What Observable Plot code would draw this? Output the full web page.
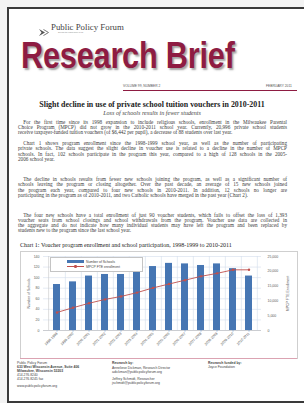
<!DOCTYPE html>
<html><head><meta charset="utf-8">
<script src="https://cdn.jsdelivr.net/npm/d3@7"></script>
<script src="https://cdn.jsdelivr.net/npm/@observablehq/plot@0.6"></script>
<style>
html,body{margin:0;padding:0;background:#f3f3f3;width:304px;height:403px;overflow:hidden;position:relative;}
.abs{position:absolute;white-space:nowrap;}
#page{position:absolute;left:7px;top:7px;width:320px;height:392px;border:2px solid #3a3a3a;border-right:none;background:#fff;}
.serif{font-family:"Liberation Serif","Times New Roman",serif;}
.sans{font-family:"Liberation Sans",Arial,sans-serif;}
.para div{height:5.3px;line-height:5.3px;font-size:5.2px;color:#3a3a3a;text-align:justify;text-align-last:justify;white-space:nowrap;overflow:visible;}
.para div.last{text-align-last:left;}
.foot div{font-size:3.4px;line-height:4px;height:4px;color:#444;}
</style></head><body>
<div id="page"></div>
<div id="root"></div>
<script>
// ---- chart data ----
const years = ["1998-1999","1999-2000","2000-2001","2001-2002","2002-2003","2003-2004","2004-2005","2005-2006","2006-2007","2007-2008","2008-2009","2009-2010","2010-2011"];
const schools = [87, 92, 103, 106, 106, 111, 121, 127, 126, 123, 126, 117, 103];
const enrollment = [6100, 7700, 9200, 10500, 11500, 12800, 14400, 15700, 17000, 18300, 19300, 20500, 20500];
const leftTicks = [0, 20, 40, 60, 80, 100, 120, 140];
const rightTicks = [0, 5000, 10000, 15000, 20000, 25000];
const seriesNames = ["Number of Schools", "MPCP FTE enrollment"];

// ---- page text ----
const titleText = "Slight decline in use of private school tuition vouchers in 2010-2011";
const subtitleText = "Loss of schools results in fewer students";
const paragraphs = [
 {top:119.5, lines:[
  "\u2003For the first time since its 1998 expansion to include religious schools, enrollment in the Milwaukee Parental",
  "Choice Program (MPCP) did not grow in the 2010-2011 school year.  Currently, 20,996 private school students",
  "receive taxpayer-funded tuition vouchers (of $6,442 per pupil), a decrease of 88 students over last year."]},
 {top:141, lines:[
  "\u2003Chart 1 shows program enrollment since the 1998-1999 school year, as well as the number of participating",
  "private schools.  The data suggest the slight decline in voucher use is related to a decline in the number of MPCP",
  "schools.  In fact, 102 schools participate in the program this year, compared to a high of 128 schools in the 2005-",
  "2006 school year."]},
 {top:177, lines:[
  "\u2003The decline in schools results from fewer new schools joining the program, as well as a significant number of",
  "schools leaving the program or closing altogether.  Over the past decade, an average of 15 new schools joined",
  "the program each year, compared to four new schools in 2010-2011.  In addition, 12 schools no longer are",
  "participating in the program as of 2010-2011, and two Catholic schools have merged in the past year (Chart 2)."]},
 {top:212.5, lines:[
  "\u2003The four new schools have a total enrollment of just 90 voucher students, which fails to offset the loss of 1,393",
  "voucher seats from school closings and school withdrawals from the program.  Voucher use data are collected in",
  "the aggregate and do not indicate how many individual students may have left the program and been replaced by",
  "students new to the program since the last school year."]}
];
const chartTitle = "Chart 1: Voucher program enrollment and school participation, 1998-1999 to 2010-2011";

const root = document.getElementById("root");
function add(html){ root.insertAdjacentHTML("beforeend", html); }

// header
add(`<div class="abs" style="left:39px;top:22.8px;width:11px;height:9px;">
<svg width="11" height="9"><path d="M0,1 L6,4.5 L0,8 L2.5,4.5 Z" fill="#555"/><path d="M4.5,1.5 L9.5,4.5 L4.5,7.5" fill="none" stroke="#777" stroke-width="1"/></svg></div>`);
add(`<div class="abs serif" style="left:51px;top:22.93px;font-size:8.8px;line-height:1;color:#444;">Public Policy Forum</div>`);
add(`<div class="abs sans" style="left:58px;top:32.35px;font-size:1.9px;line-height:1;color:#888;">Serving the region since 1913</div>`);
add(`<div class="abs sans" style="left:21px;top:42.28px;height:26.25px;font-size:37.5px;font-weight:bold;color:#8e1c42;transform:scaleX(0.82);transform-origin:0 0;letter-spacing:-0.3px;text-shadow:2px 2px 2px rgba(90,90,90,0.55);line-height:0.7;">Research Brief</div>`);
add(`<div class="abs sans" style="left:123px;top:84.3px;font-size:3.3px;color:#555;">VOLUME 99, NUMBER 2</div>`);
add(`<div class="abs sans" style="left:266px;top:84.3px;font-size:3.3px;color:#555;">FEBRUARY 2011</div>`);
add(`<div class="abs" style="left:123px;top:89.5px;width:174px;height:1.6px;background:#8e1c42;"></div>`);

// title
add(`<div class="abs serif" style="left:0;width:304px;text-align:center;top:99.5px;font-size:7.9px;font-weight:bold;color:#222;">${titleText}</div>`);
add(`<div class="abs serif" style="left:0;width:304px;text-align:center;top:109.5px;font-size:6.1px;font-style:italic;color:#444;">${subtitleText}</div>`);

// paragraphs
for (const p of paragraphs) {
  const inner = p.lines.map((l,i)=>`<div class="${i===p.lines.length-1?'last':''}">${l}</div>`).join("");
  add(`<div class="abs para serif" style="left:18px;top:${p.top}px;width:269px;white-space:normal;">${inner}</div>`);
}
add(`<div class="abs serif" style="left:20px;top:242.3px;font-size:6px;color:#222;">${chartTitle}</div>`);

// chart box
add(`<div class="abs" style="left:20px;top:251px;width:276px;height:106px;border:0.6px solid #cfcfcf;background:#fff;"></div>`);
add(`<div class="abs" style="left:20px;top:357.5px;width:277px;height:1px;background:#dba3b2;"></div>`);

const W = 277, H = 106, mL = 23, mR = 36, mT = 5, mB = 27;
const step = (W - mL - mR) / years.length;
const k = 140 / 25000;
const data = years.map((y, i) => ({year: y, schools: schools[i], enrollment: enrollment[i]}));
const fmt = d3.format(",");

const chart = Plot.plot({
  width: W, height: H,
  marginLeft: mL, marginRight: mR, marginTop: mT, marginBottom: mB,
  style: {fontFamily: "Liberation Sans, Arial, sans-serif", fontSize: "3.5px", color: "#595959", background: "transparent", overflow: "visible"},
  x: {domain: years, paddingInner: 0.58, paddingOuter: 0.29, label: null},
  y: {domain: [0, 140], label: null},
  marks: [
    Plot.ruleY(leftTicks, {stroke: "#d3deec", strokeWidth: 0.6}),
    Plot.ruleX(years, {x: d => d, dx: step / 2, y1: 0, y2: 140, stroke: "#d3deec", strokeWidth: 0.6}),
    Plot.ruleX([years[0]], {x: d => d, dx: -step / 2, y1: 0, y2: 140, stroke: "#c8c8c8", strokeWidth: 0.6}),
    Plot.barY(data, {x: "year", y: "schools", fill: "#4676b3"}),
    Plot.line(data, {x: "year", y: d => d.enrollment * k, stroke: "#c0504d", strokeWidth: 0.9}),
    Plot.dot(data, {x: "year", y: d => d.enrollment * k, r: 1.2, fill: "#c0504d", stroke: "none"}),
    Plot.ruleY([0], {stroke: "#b8b8b8", strokeWidth: 0.6}),
    Plot.axisY(leftTicks, {anchor: "left", tickSize: 0, tickPadding: 4, label: seriesNames[0], labelAnchor: "center", labelArrow: "none", labelOffset: 16}),
    Plot.axisY(rightTicks.map(v => v * k), {anchor: "right", tickSize: 0, tickPadding: 6, tickFormat: d => fmt(Math.round(d / k)), label: "MPCP FTE Enrollment", labelAnchor: "center", labelArrow: "none", labelOffset: 27}),
    Plot.axisX({tickRotate: -45, tickSize: 1.5, tickPadding: 1, label: null, stroke: "#8fb0d8"})
  ]
});
chart.style.position = "absolute";
chart.style.left = "20px";
chart.style.top = "251px";
root.appendChild(chart);

// legend
add(`<div class="abs sans" style="left:50px;top:257px;width:91px;height:13px;border:0.6px solid #c4c4c4;background:#fff;font-size:3.4px;color:#444;">
<div class="abs" style="left:16px;top:2.2px;width:17px;height:2.6px;background:#4676b3;"></div>
<div class="abs" style="left:35px;top:1.6px;">${seriesNames[0]}</div>
<div class="abs" style="left:16px;top:8.1px;width:17px;height:0.9px;background:#c0504d;"></div>
<div class="abs" style="left:23.3px;top:7.3px;width:2.4px;height:2.4px;border-radius:50%;background:#c0504d;"></div>
<div class="abs" style="left:35px;top:6.8px;">${seriesNames[1]}</div>
</div>`);

// footer
add(`<div class="abs sans foot" style="left:17px;top:361px;">
<div>Public Policy Forum</div><div style="font-weight:bold">633 West Wisconsin Avenue, Suite 406</div><div style="font-weight:bold">Milwaukee, Wisconsin 53203</div><div>414.276.8240</div><div>414.276.8245 fax</div><div style="margin-top:3px">www.publicpolicyforum.org</div></div>`);
add(`<div class="abs sans foot" style="left:112px;top:361px;">
<div style="font-weight:bold">Research by:</div><div style="margin-top:1px">Anneliese Dickman, Research Director</div><div>adickman@publicpolicyforum.org</div><div style="margin-top:3px">Jeffrey Schmidt, Researcher</div><div>jschmidt@publicpolicyforum.org</div></div>`);
add(`<div class="abs sans foot" style="left:208px;top:361px;">
<div style="font-weight:bold">Research funded by:</div><div>Joyce Foundation</div></div>`);
</script>
</body></html>
